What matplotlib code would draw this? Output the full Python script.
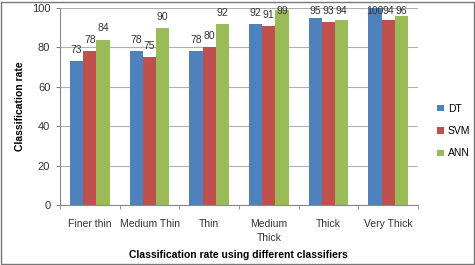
import matplotlib
matplotlib.use("Agg")
import matplotlib.pyplot as plt
import numpy as np
from matplotlib.patches import Rectangle

categories = ["Finer thin", "Medium Thin", "Thin", "Medium\nThick", "Thick", "Very Thick"]
series_names = ["DT", "SVM", "ANN"]
dt = [73, 78, 78, 92, 95, 100]
svm = [78, 75, 80, 91, 93, 94]
ann = [84, 90, 92, 99, 94, 96]
colors = ["#4F81BD", "#C0504D", "#9BBB59"]

plt.rcParams['font.family'] = ['Liberation Sans', 'DejaVu Sans']

fig = plt.figure(figsize=(4.75, 2.65), dpi=100)
ax = fig.add_axes([60/475, 1-205/265, (418-60)/475, (205-8)/265])

x = np.arange(len(categories))
w = 0.222
for i, (vals, name, c) in enumerate(zip([dt, svm, ann], series_names, colors)):
    bars = ax.bar(x + (i-1)*w, vals, w, color=c, label=name, zorder=3)
    for b, v in zip(bars, vals):
        ax.text(b.get_x()+b.get_width()/2, min(v+5.6, 98.5), str(v), ha='center', va='center',
                fontsize=7.5, color='#333333', zorder=4)

ax.set_xlim(-0.5, len(categories)-0.5)
ax.set_ylim(0, 100)
ax.set_yticks(range(0, 101, 20))
ax.yaxis.grid(True, color='#b0b0b0', linewidth=0.8, zorder=0)
ax.set_xticks(x)
ax.set_xticklabels(categories, fontsize=7.5, color='#333333', linespacing=1.5)
ax.set_xticks(np.arange(-0.5, len(categories), 1), minor=True)
ax.tick_params(axis='x', which='major', length=0, pad=10)
ax.tick_params(axis='x', which='minor', length=3, color='#888888')
ax.tick_params(axis='y', length=3, color='#888888', labelsize=8, labelcolor='#333333', pad=4)
for s in ['top', 'right']:
    ax.spines[s].set_visible(False)
for s in ['left', 'bottom']:
    ax.spines[s].set_color('#888888')

ax.set_ylabel("Classification rate", fontsize=7.5, fontweight='bold', labelpad=5)
fig.text(238/475, 1-255/265, "Classification rate using different classifiers",
         ha='center', va='center', fontsize=7.5, fontweight='bold')

ax.legend(loc='center left', bbox_to_anchor=(428/475, 1-131/265), bbox_transform=fig.transFigure,
          frameon=False, fontsize=7.5, handlelength=0.6, handleheight=0.6, handletextpad=0.4,
          labelspacing=1.2)

fig.patches.append(Rectangle((0.002, 0.004), 0.995, 0.99, transform=fig.transFigure,
                             fill=False, edgecolor='#777777', linewidth=1))

fig.savefig("out.png", dpi=100)
